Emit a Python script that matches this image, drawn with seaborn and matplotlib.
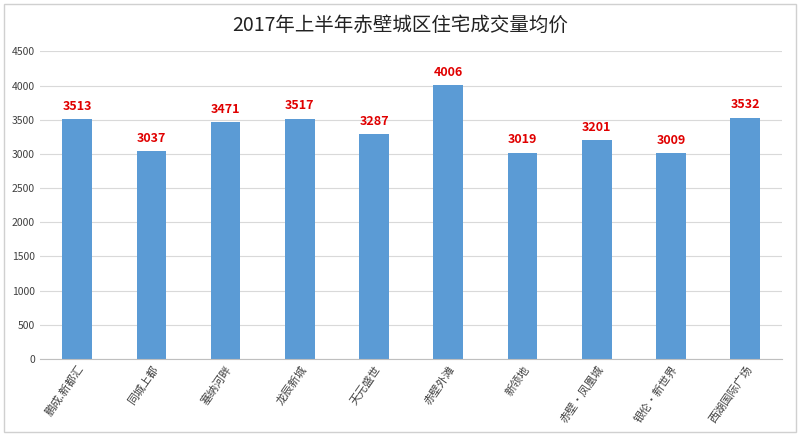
import matplotlib
matplotlib.use("Agg")
import matplotlib.pyplot as plt
import seaborn as sns
import pandas as pd

categories = ["鹏成.新都汇", "同城上都", "塞纳河畔", "龙辰新城", "天元盛世", "赤壁外滩", "新领地", "赤壁·凤凰城", "银伦·新世界", "西湖国际广场"]
values = [3513, 3037, 3471, 3517, 3287, 4006, 3019, 3201, 3009, 3532]
yticks = list(range(0, 4501, 500))

plt.rcParams["font.family"] = ["Noto Sans CJK SC", "DejaVu Sans"]
fig = plt.figure(figsize=(8, 4.36), dpi=100)
ax = fig.add_axes([0.05, 0.177, 0.928, 0.705])
df = pd.DataFrame({"c": categories, "v": values})
sns.barplot(data=df, x="c", y="v", color="#5B9BD5", saturation=1, width=0.4, ax=ax)
for i, v in enumerate(values):
    ax.text(i, v + 90, str(v), ha="center", va="bottom", color="#E00000", fontsize=9, fontweight="bold")
ax.set_ylim(0, 4500)
ax.set_yticks(yticks)
ax.tick_params(axis="y", labelsize=7.5, length=0, colors="#404040")
ax.tick_params(axis="x", length=0, labelsize=8, colors="#404040")
plt.setp(ax.get_xticklabels(), rotation=55, ha="right", rotation_mode="anchor")
ax.grid(axis="y", color="#D9D9D9", linewidth=0.8)
ax.set_axisbelow(True)
for s in ["top", "right", "left"]:
    ax.spines[s].set_visible(False)
ax.spines["bottom"].set_color("#BFBFBF")
ax.set_xlabel("")
ax.set_ylabel("")
ax.set_xlim(-0.5, 9.5)
fig.suptitle("2017年上半年赤壁城区住宅成交量均价", y=0.965, fontsize=14, color="#222222")
fig.patches.append(plt.Rectangle((0.005, 0.01), 0.99, 0.98, transform=fig.transFigure, fill=False, edgecolor="#D0D0D0", linewidth=1))
fig.savefig("out.png", dpi=100)
